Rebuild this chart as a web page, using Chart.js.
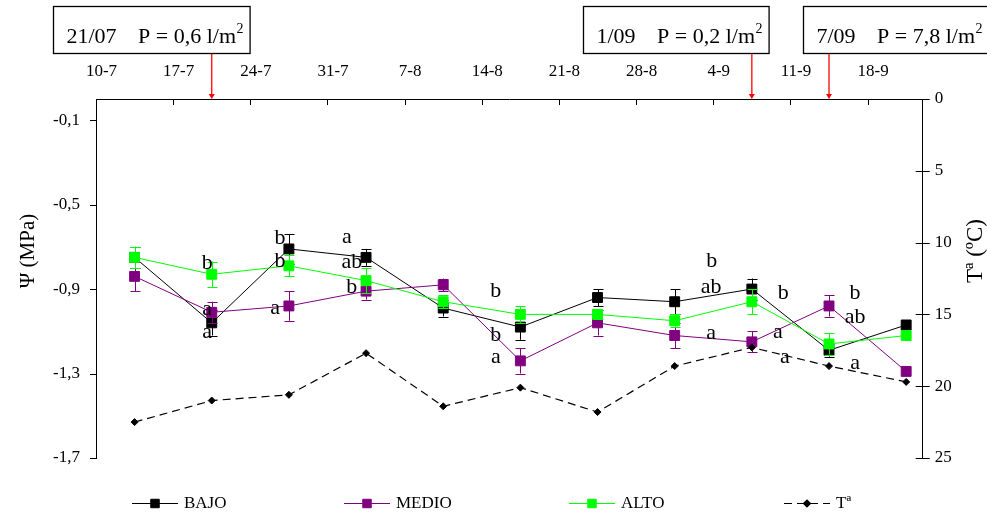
<!DOCTYPE html>
<html>
<head>
<meta charset="utf-8">
<script src="https://cdn.jsdelivr.net/npm/chart.js@4.4.1/dist/chart.umd.min.js"></script>
<style>
  html, body { margin: 0; padding: 0; background: #fff; }
  #c { display: block; }
</style>
</head>
<body>
<canvas id="c" width="987" height="515"></canvas>
<script>
// ---- data ----
const tickLabels  = ['10-7', '17-7', '24-7', '31-7', '7-8', '14-8', '21-8', '28-8', '4-9', '11-9', '18-9'];
const sampleDates = ['13-7', '20-7', '27-7', '3-8', '10-8', '17-8', '24-8', '31-8', '7-9', '14-9', '21-9'];

// leaf water potential (MPa) and standard errors
const bajo     = [-0.75, -1.06, -0.71, -0.75, -0.99, -1.08, -0.94, -0.96, -0.90, -1.19, -1.07];
const bajoErr  = [ 0.05,  0.06,  0.07,  0.04,  0.04,  0.06,  0.04,  0.06,  0.05,  0.03,  0.00];
const medio    = [-0.84, -1.01, -0.98, -0.91, -0.88, -1.24, -1.06, -1.12, -1.15, -0.98, -1.29];
const medioErr = [ 0.07,  0.05,  0.07,  0.04,  0.03,  0.06,  0.06,  0.06,  0.05,  0.05,  0.00];
const alto     = [-0.75, -0.83, -0.79, -0.86, -0.96, -1.02, -1.02, -1.05, -0.96, -1.16, -1.12];
const altoErr  = [ 0.05,  0.06,  0.05,  0.06,  0.03,  0.04,  0.02,  0.03,  0.06,  0.05,  0.00];

// air temperature (ºC)
const tempC    = [22.5, 21.0, 20.6, 17.7, 21.4, 20.1, 21.8, 18.6, 17.3, 18.6, 19.7];

// rain events and the sampling date each one precedes
const rainDates  = ['21/07', '1/09', '7/09'];
const rainAmount = ['0,6', '0,2', '7,8'];
const rainSample = ['20-7', '7-9', '14-9'];

const psiTicks  = [-0.1, -0.5, -0.9, -1.3, -1.7];
const tempTicks = [0, 5, 10, 15, 20, 25];

// ---- helpers ----
const FONT = "'Liberation Serif', 'Times New Roman', serif";
const monthStart = { 7: 0, 8: 31, 9: 62 };           // days from 1 July
function dayIndex(s) {                                // days since 10 July
  const [d, m] = s.split('-').map(Number);
  return monthStart[m] + d - 10;
}
const tickDays   = tickLabels.map(dayIndex);
const sampleDays = sampleDates.map(s => dayIndex(s) + 0.5);   // centre of the day slot

const series = (vals) => vals.map((v, i) => ({ x: sampleDays[i], y: v }));

// significance letters: text, sample index, horizontal shift (px), height (MPa)
const letterMarks = [
  ['b', 1, -4.6, -0.770], ['a', 1, -4.6, -0.999], ['a', 1, -4.6, -1.108],
  ['b', 2, -8.8, -0.652], ['b', 2, -8.8, -0.762], ['a', 2, -13.8, -0.994],
  ['a', 3, -19.2, -0.660], ['ab', 3, -14.2, -0.767], ['b', 3, -14.2, -0.885],
  ['b', 5, -24.6, -0.904], ['b', 5, -24.6, -1.109], ['a', 5, -24.6, -1.228],
  ['b', 8, -40.0, -0.762], ['ab', 8, -40.8, -0.885], ['a', 8, -40.8, -1.114],
  ['b', 8, 31.5, -0.912], ['a', 8, 26.0, -1.109], ['a', 8, 33.0, -1.228],
  ['b', 9, 26.0, -0.912], ['ab', 9, 26.0, -1.027], ['a', 9, 26.0, -1.256]
];

// ---- plugins ----
const errorBars = {
  id: 'errorBars',
  beforeDatasetDraw(chart, args) {
    const ds = chart.data.datasets[args.index];
    if (!ds.errors) return;
    const ys = chart.scales[ds.yAxisID];
    const ctx = chart.ctx;
    ctx.save();
    ctx.strokeStyle = ds.borderColor;
    ctx.lineWidth = 1;
    args.meta.data.forEach((pt, i) => {
      const e = ds.errors[i];
      if (!e) return;
      const v = ds.data[i].y;
      const y1 = ys.getPixelForValue(v + e), y2 = ys.getPixelForValue(v - e);
      const x = Math.round(pt.x) + 0.5;
      ctx.beginPath();
      ctx.moveTo(x, y1); ctx.lineTo(x, y2);
      ctx.moveTo(x - 5, Math.round(y1) + 0.5); ctx.lineTo(x + 5, Math.round(y1) + 0.5);
      ctx.moveTo(x - 5, Math.round(y2) + 0.5); ctx.lineTo(x + 5, Math.round(y2) + 0.5);
      ctx.stroke();
    });
    ctx.restore();
  }
};

const decorations = {
  id: 'decorations',
  afterDraw(chart) {
    const ctx = chart.ctx;
    const { x: xs, y: ys, yT } = chart.scales;
    const area = chart.chartArea;
    ctx.save();

    // tick marks
    ctx.strokeStyle = '#000';
    ctx.lineWidth = 1;
    ctx.beginPath();
    tickDays.forEach(d => {
      if (d === 0) return;
      const x = Math.round(xs.getPixelForValue(d)) + 0.5;
      ctx.moveTo(x, area.top); ctx.lineTo(x, area.top + 6);
    });
    psiTicks.forEach(v => {
      const y = Math.round(ys.getPixelForValue(v)) + 0.5;
      ctx.moveTo(area.left - 6, y); ctx.lineTo(area.left, y);
    });
    tempTicks.forEach(v => {
      const y = Math.round(yT.getPixelForValue(v)) + 0.5;
      ctx.moveTo(area.right - 7, y); ctx.lineTo(area.right + 7, y);
    });
    ctx.stroke();

    // significance letters
    ctx.fillStyle = '#000';
    ctx.font = '22px ' + FONT;
    ctx.textAlign = 'center';
    ctx.textBaseline = 'alphabetic';
    letterMarks.forEach(([t, i, dx, v]) => {
      const x = xs.getPixelForValue(sampleDays[i]) + dx;
      const y = ys.getPixelForValue(v) + (/b/.test(t) ? 7.5 : 5);
      ctx.fillText(t, x, y);
    });

    // axis titles
    ctx.textAlign = 'center';
    ctx.textBaseline = 'middle';
    ctx.font = '21px ' + FONT;
    ctx.save(); ctx.translate(28, 251); ctx.rotate(-Math.PI / 2);
    ctx.fillText('Ψ (MPa)', 0, 0); ctx.restore();
    ctx.font = '23px ' + FONT;
    ctx.save(); ctx.translate(976, 251); ctx.rotate(-Math.PI / 2);
    ctx.fillText('Tª (ºC)', 0, 0); ctx.restore();

    // rain boxes with arrows
    const boxLeft = [53, 583, 803];
    const boxTop = 6, boxBottom = 53;
    rainDates.forEach((d, i) => {
      ctx.font = '22px ' + FONT;
      ctx.textAlign = 'left';
      ctx.textBaseline = 'alphabetic';
      const main = 'P = ' + rainAmount[i] + ' l/m';
      const wDate = ctx.measureText(d).width;
      const wMain = ctx.measureText(main).width;
      const xDate = boxLeft[i] + 13.5;
      const xMain = xDate + wDate + 21.5;
      ctx.fillText(d, xDate, 43);
      ctx.fillText(main, xMain, 43);
      ctx.font = '14px ' + FONT;
      ctx.fillText('2', xMain + wMain + 0.5, 33);
      const right = xMain + wMain + 0.5 + ctx.measureText('2').width + 6;
      ctx.lineWidth = 1.3;
      ctx.strokeStyle = '#000';
      ctx.strokeRect(boxLeft[i] + 0.5, boxTop + 0.5, right - boxLeft[i], boxBottom - boxTop);

      const ax = xs.getPixelForValue(dayIndex(rainSample[i]) + 0.5);
      ctx.strokeStyle = '#ff0000';
      ctx.fillStyle = '#ff0000';
      ctx.lineWidth = 1.3;
      ctx.beginPath();
      ctx.moveTo(ax, boxBottom + 1); ctx.lineTo(ax, area.top - 4);
      ctx.stroke();
      ctx.beginPath();
      ctx.moveTo(ax - 3, area.top - 5); ctx.lineTo(ax + 3, area.top - 5); ctx.lineTo(ax, area.top);
      ctx.closePath(); ctx.fill();
      ctx.fillStyle = '#000';
    });

    // legend
    const legendX = [132, 344, 569, 784];
    const ly = 503;
    const order = ['BAJO', 'MEDIO', 'ALTO', 'Tª'];
    ctx.font = '17px ' + FONT;
    ctx.textAlign = 'left';
    ctx.textBaseline = 'middle';
    order.forEach((name, k) => {
      const ds = chart.data.datasets.find(s => s.label === name);
      const x0 = legendX[k];
      ctx.save();
      ctx.strokeStyle = ds.borderColor;
      ctx.lineWidth = ds.borderWidth;
      ctx.setLineDash(ds.borderDash || []);
      ctx.beginPath(); ctx.moveTo(x0, ly + 0.5); ctx.lineTo(x0 + 46, ly + 0.5); ctx.stroke();
      ctx.setLineDash([]);
      ctx.fillStyle = ds.backgroundColor;
      Chart.helpers.drawPoint(ctx, {
        pointStyle: ds.pointStyle, radius: ds.pointStyle === 'rect' ? 6 : 3.5,
        rotation: 0, borderWidth: 1
      }, x0 + 23, ly + 0.5);
      ctx.restore();
      ctx.fillStyle = '#000';
      ctx.fillText(name, x0 + 52, ly + 1);
    });
    ctx.restore();
  }
};

// ---- chart ----
const tickFont = { family: FONT, size: 17 };
const noGrid = { display: false, drawTicks: false };
new Chart(document.getElementById('c'), {
  type: 'line',
  data: {
    datasets: [
      { label: 'BAJO', data: series(bajo), errors: bajoErr, yAxisID: 'y', order: 3,
        borderColor: '#000000', backgroundColor: '#000000', borderWidth: 1,
        pointStyle: 'rect', pointRadius: 7, pointBorderWidth: 1 },
      { label: 'MEDIO', data: series(medio), errors: medioErr, yAxisID: 'y', order: 2,
        borderColor: '#800080', backgroundColor: '#800080', borderWidth: 1,
        pointStyle: 'rect', pointRadius: 7, pointBorderWidth: 1 },
      { label: 'ALTO', data: series(alto), errors: altoErr, yAxisID: 'y', order: 1,
        borderColor: '#00ff00', backgroundColor: '#00ff00', borderWidth: 1,
        pointStyle: 'rect', pointRadius: 7, pointBorderWidth: 1 },
      { label: 'Tª', data: series(tempC), yAxisID: 'yT', order: 0,
        borderColor: '#000000', backgroundColor: '#000000', borderWidth: 1.2,
        borderDash: [8, 5], pointStyle: 'rectRot', pointRadius: 3.5, pointBorderWidth: 1 }
    ]
  },
  options: {
    responsive: false,
    animation: false,
    devicePixelRatio: 1,
    layout: { padding: { left: 0, right: 0, top: 0, bottom: 57 } },
    plugins: { legend: { display: false }, tooltip: { enabled: false } },
    elements: { line: { tension: 0 } },
    scales: {
      x: {
        type: 'linear', position: 'top', min: 0, max: 75,
        afterBuildTicks: s => { s.ticks = tickDays.map(v => ({ value: v })); },
        afterFit: s => { s.height = 99; },
        grid: noGrid,
        border: { display: true, color: '#000', width: 1 },
        ticks: {
          padding: 17, labelOffset: 5.5, maxRotation: 0, autoSkip: false,
          color: '#000', font: tickFont,
          callback: v => tickLabels[tickDays.indexOf(v)]
        }
      },
      y: {
        type: 'linear', position: 'left', min: -1.7, max: 0,
        afterBuildTicks: s => { s.ticks = psiTicks.map(v => ({ value: v })); },
        afterFit: s => { s.width = 96; },
        grid: noGrid,
        border: { display: true, color: '#000', width: 1 },
        ticks: {
          padding: 16, color: '#000', font: tickFont, autoSkip: false,
          callback: v => v.toFixed(1).replace('.', ',')
        }
      },
      yT: {
        type: 'linear', position: 'right', min: 0, max: 25, reverse: true,
        afterBuildTicks: s => { s.ticks = tempTicks.map(v => ({ value: v })); },
        afterFit: s => { s.width = 64.3; },
        grid: noGrid,
        border: { display: true, color: '#000', width: 1 },
        ticks: { padding: 12, color: '#000', font: tickFont, autoSkip: false }
      }
    }
  },
  plugins: [errorBars, decorations]
});
</script>
</body>
</html>
